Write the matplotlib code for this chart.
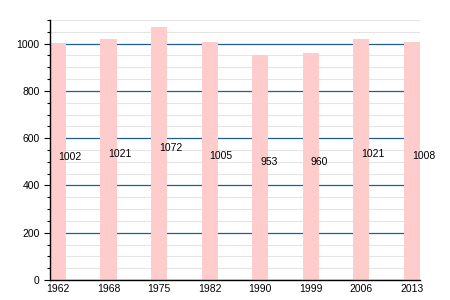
import numpy as np
import matplotlib.pyplot as plt
from matplotlib.ticker import MultipleLocator

# ---------- data ----------
years = ['1962', '1968', '1975', '1982', '1990', '1999', '2006', '2013']
population = [1002, 1021, 1072, 1005, 953, 960, 1021, 1008]

BAR_COLOR = '#ffcccc'
MAJOR_COLOR = '#1f5f99'
MINOR_COLOR = '#e4e4e4'

plt.rcParams['font.family'] = ['Liberation Sans', 'DejaVu Sans']

fig = plt.figure(figsize=(4.5, 3), dpi=100)
ax = fig.add_axes([0.111, 0.0667, 0.822, 0.8667])

x = np.arange(len(years))
width = 0.32
ax.bar(x, population, width=width, color=BAR_COLOR, zorder=2)

# value labels, left-aligned at bar centre, around half height
for xi, v in zip(x, population):
    ax.text(xi, v / 2, str(v), ha='left', va='bottom', fontsize=7.5, zorder=3)

ax.set_xlim(-width / 2, len(years) - 1 + width / 2)
ax.set_ylim(0, 1100)

ax.set_xticks(x)
ax.set_xticklabels(years, fontsize=7.5)
ax.tick_params(axis='x', length=0, pad=3)

ax.yaxis.set_major_locator(MultipleLocator(200))
ax.yaxis.set_minor_locator(MultipleLocator(50))
ax.tick_params(axis='y', which='major', labelsize=7.5, length=4, width=0.8)
ax.tick_params(axis='y', which='minor', length=2, width=0.8)

ax.grid(axis='y', which='minor', color=MINOR_COLOR, linewidth=0.8, zorder=0)
ax.grid(axis='y', which='major', color=MAJOR_COLOR, linewidth=0.9, zorder=1)
ax.set_axisbelow(True)

for side in ['top', 'right']:
    ax.spines[side].set_visible(False)
ax.spines['left'].set_linewidth(1)
ax.spines['bottom'].set_linewidth(1)

fig.savefig('out.png', dpi=100)
